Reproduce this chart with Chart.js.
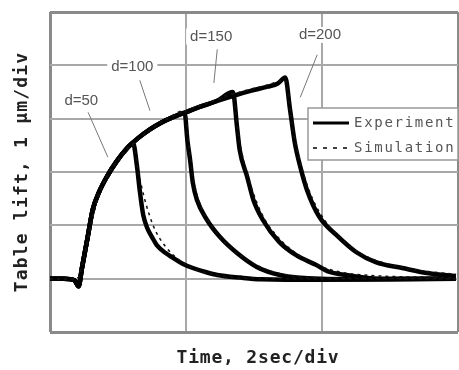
<!DOCTYPE html>
<html>
<head>
<meta charset="utf-8">
<script src="https://cdn.jsdelivr.net/npm/chart.js@4.4.1/dist/chart.umd.min.js"></script>
<style>
  html, body { margin: 0; padding: 0; background: #fff; }
  #c { display: block; }
</style>
</head>
<body>
<canvas id="c" width="459" height="370"></canvas>
<script>
// time in s (2 s per div), lift in um (1 um per div)
var expRise = [[0, 1.0], [0.2, 1.0], [0.36, 0.97], [0.42, 0.86], [0.47, 1.2], [0.55, 1.75], [0.63, 2.3],
  [0.72, 2.62], [0.84, 2.92], [0.98, 3.2], [1.13, 3.44], [1.3, 3.64], [1.47, 3.8], [1.64, 3.93],
  [1.81, 4.03], [2.0, 4.12], [2.2, 4.22], [2.45, 4.33], [2.7, 4.43], [2.95, 4.52], [3.2, 4.6],
  [3.35, 4.66], [3.46, 4.77]];
var expFall50 = [[1.22, 3.55], [1.28, 3.1], [1.32, 2.65], [1.37, 2.2], [1.43, 1.95], [1.5, 1.78],
  [1.57, 1.63], [1.7, 1.48], [1.81, 1.39], [1.95, 1.28], [2.1, 1.2], [2.3, 1.12], [2.46, 1.07],
  [2.8, 1.02], [3.1, 0.99], [4.0, 0.98], [5.0, 0.99], [5.97, 1.0]];
var expFall100 = [[1.98, 4.11], [2.02, 3.6], [2.06, 3.23], [2.1, 2.8], [2.16, 2.48], [2.31, 2.1],
  [2.5, 1.78], [2.75, 1.48], [3.04, 1.22], [3.38, 1.07], [3.97, 1.0], [5.0, 0.99], [5.97, 1.0]];
var expFall150 = [[2.69, 4.5], [2.75, 3.85], [2.79, 3.41], [2.9, 2.91], [2.99, 2.48], [3.13, 2.1],
  [3.37, 1.69], [3.62, 1.44], [3.91, 1.26], [4.1, 1.13], [4.35, 1.07], [4.85, 1.0], [5.97, 1.0]];
var expFall200 = [[3.46, 4.77], [3.53, 4.17], [3.6, 3.55], [3.68, 3.1], [3.78, 2.66], [3.96, 2.16],
  [4.21, 1.82], [4.5, 1.5], [4.79, 1.31], [5.18, 1.2], [5.57, 1.1], [5.97, 1.05]];

var simRise = [[0, 1.0], [0.4, 1.0], [0.5, 1.4], [0.6, 2.0], [0.7, 2.5], [0.85, 2.95], [1.0, 3.22],
  [1.2, 3.5], [1.4, 3.72], [1.7, 3.98], [2.0, 4.15], [2.4, 4.33], [2.8, 4.5], [3.2, 4.63], [3.46, 4.72]];
var simFall50 = [[1.22, 3.5], [1.3, 3.0], [1.38, 2.55], [1.46, 2.2], [1.55, 1.9], [1.7, 1.6],
  [1.9, 1.35], [2.2, 1.15], [2.6, 1.04], [3.2, 1.0], [5.97, 1.0]];
var simFall100 = [[1.98, 4.15], [2.05, 3.4], [2.12, 2.8], [2.22, 2.35], [2.38, 1.98], [2.6, 1.65],
  [2.9, 1.35], [3.3, 1.12], [3.9, 1.02], [5.97, 1.0]];
var simFall150 = [[2.69, 4.47], [2.76, 3.8], [2.84, 3.25], [2.95, 2.75], [3.12, 2.2], [3.35, 1.78],
  [3.65, 1.45], [4.0, 1.22], [4.5, 1.08], [5.97, 1.02]];
var simFall200 = [[3.46, 4.72], [3.54, 4.05], [3.62, 3.5], [3.72, 3.0], [3.86, 2.5], [4.05, 2.08],
  [4.3, 1.72], [4.6, 1.45], [4.95, 1.28], [5.35, 1.17], [5.97, 1.08]];

var peakTimes = [1.22, 1.98, 2.69, 3.46];
var curveNames = ['d=50', 'd=100', 'd=150', 'd=200'];
// label anchor and leader line ends, in data units
var labelPos = [[0.46, 4.33], [1.21, 4.98], [2.37, 5.54], [3.97, 5.57]];
var leaderFrom = [[0.56, 4.12], [1.32, 4.72], [2.46, 5.3], [3.93, 5.2]];
var leaderTo = [[0.85, 3.28], [1.47, 4.15], [2.41, 4.67], [3.68, 4.4]];

var expFalls = [expFall50, expFall100, expFall150, expFall200];
var simFalls = [simFall50, simFall100, simFall150, simFall200];

function joinCurve(rise, fall, tPeak) {
    var pts = rise.filter(function(p) { return p[0] < tPeak; }).concat(fall);
    return pts.map(function(p) { return { x: p[0], y: p[1] }; });
}

var datasets = [];
// simulation first so it is drawn on top
for (var i = 0; i < 4; i++) {
    datasets.push({
        label: 'Simulation ' + curveNames[i],
        data: joinCurve(simRise, simFalls[i], peakTimes[i]),
        borderColor: '#111',
        borderWidth: 1.5,
        borderDash: [3, 4],
        pointRadius: 0,
        showLine: true,
        cubicInterpolationMode: 'monotone'
    });
}
for (var j = 0; j < 4; j++) {
    datasets.push({
        label: 'Experiment ' + curveNames[j],
        data: joinCurve(expRise, expFalls[j], peakTimes[j]),
        borderColor: '#000',
        borderWidth: 4.5,
        pointRadius: 0,
        showLine: true,
        cubicInterpolationMode: 'monotone'
    });
}

function spacedText(ctx, text, x, y, spacing) {
    if ('letterSpacing' in ctx) {
        ctx.letterSpacing = spacing + 'px';
        ctx.fillText(text, x, y);
        ctx.letterSpacing = '0px';
    } else {
        ctx.fillText(text, x, y);
    }
}

var overlay = {
    id: 'overlay',
    afterDraw: function(chart) {
        var ctx = chart.ctx;
        var xs = chart.scales.x, ys = chart.scales.y;
        ctx.save();

        // curve labels with leader lines
        ctx.font = '15px "Liberation Sans", Arial, sans-serif';
        ctx.textAlign = 'center';
        ctx.textBaseline = 'middle';
        for (var k = 0; k < curveNames.length; k++) {
            var lx = xs.getPixelForValue(labelPos[k][0]);
            var ly = ys.getPixelForValue(labelPos[k][1]);
            var w = ctx.measureText(curveNames[k]).width;
            ctx.fillStyle = '#fff';
            ctx.fillRect(lx - w / 2 - 4, ly - 8, w + 8, 16);
            ctx.fillStyle = '#555';
            ctx.fillText(curveNames[k], lx, ly);
            ctx.strokeStyle = '#777';
            ctx.lineWidth = 1;
            ctx.beginPath();
            ctx.moveTo(xs.getPixelForValue(leaderFrom[k][0]), ys.getPixelForValue(leaderFrom[k][1]));
            ctx.lineTo(xs.getPixelForValue(leaderTo[k][0]), ys.getPixelForValue(leaderTo[k][1]));
            ctx.stroke();
        }

        // legend box
        var bx = 308, by = 108, bw = 150, bh = 52;
        ctx.fillStyle = '#fff';
        ctx.fillRect(bx, by, bw, bh);
        ctx.strokeStyle = '#999';
        ctx.lineWidth = 1.5;
        ctx.strokeRect(bx, by, bw, bh);
        ctx.strokeStyle = '#000';
        ctx.lineWidth = 3;
        ctx.beginPath();
        ctx.moveTo(313, 123);
        ctx.lineTo(349, 123);
        ctx.stroke();
        ctx.lineWidth = 1.5;
        ctx.setLineDash([4, 6]);
        ctx.beginPath();
        ctx.moveTo(313, 148);
        ctx.lineTo(352, 148);
        ctx.stroke();
        ctx.setLineDash([]);
        ctx.font = '14px "DejaVu Sans Mono", monospace';
        ctx.textAlign = 'left';
        ctx.fillStyle = '#555';
        spacedText(ctx, 'Experiment', 354, 123, 1.7);
        spacedText(ctx, 'Simulation', 354, 148, 1.7);

        // axis titles
        ctx.font = 'bold 18px "DejaVu Sans Mono", monospace';
        ctx.fillStyle = '#222';
        ctx.textAlign = 'center';
        spacedText(ctx, 'Time, 2sec/div', 258, 358, 0.8);
        ctx.translate(22, 172);
        ctx.rotate(-Math.PI / 2);
        spacedText(ctx, 'Table lift, 1 μm/div', 0, 0, 1.2);
        ctx.restore();
    }
};

function gridWidth(c) {
    return (c.tick && (c.tick.value === 0 || c.tick.value === 6)) ? 3 : 2;
}
function gridColor(c) {
    return (c.tick && (c.tick.value === 0 || c.tick.value === 6)) ? '#8a8a8a' : '#a8a8a8';
}

new Chart(document.getElementById('c').getContext('2d'), {
    type: 'scatter',
    data: { datasets: datasets },
    options: {
        responsive: false,
        animation: false,
        layout: { padding: { left: 50, top: 12, right: 1, bottom: 38 } },
        plugins: { legend: { display: false }, tooltip: { enabled: false } },
        scales: {
            x: {
                type: 'linear', min: 0, max: 6,
                ticks: { display: false, stepSize: 2 },
                grid: { drawTicks: false, lineWidth: gridWidth, color: gridColor },
                border: { display: false }
            },
            y: {
                min: 0, max: 6,
                ticks: { display: false, stepSize: 1 },
                grid: { drawTicks: false, lineWidth: gridWidth, color: gridColor },
                border: { display: false }
            }
        }
    },
    plugins: [overlay]
});
</script>
</body>
</html>
